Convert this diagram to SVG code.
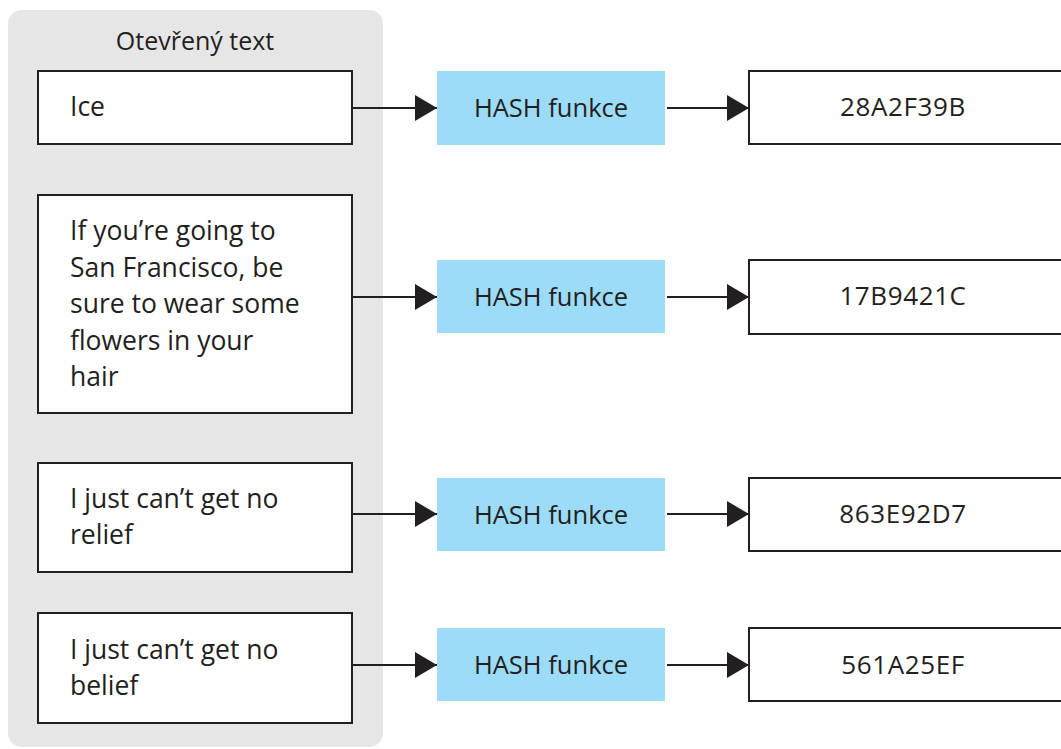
<svg xmlns="http://www.w3.org/2000/svg" width="1061" height="749" viewBox="0 0 1061 749">
  <style>
    .panel { fill: #e6e6e6; }
    .box { fill: #ffffff; stroke: #231f20; stroke-width: 2; }
    .hash { fill: #9ddcf9; }
    .txt { font-family: "Open Sans", "Liberation Sans", sans-serif; font-size: 26.5px; fill: #231f20; }
    .mid { text-anchor: middle; }
    .head { font-size: 25px; }
    .fn { font-size: 25.5px; }
    .code { font-size: 26px; letter-spacing: 0.6px; }
    .link { stroke: #231f20; stroke-width: 2; fill: none; marker-end: url(#arrow); }
  </style>
  <defs>
    <marker id="arrow" markerUnits="userSpaceOnUse" markerWidth="22" markerHeight="26" refX="22" refY="13" orient="auto">
      <path d="M0,0 L22,13 L0,26 Z" fill="#231f20"/>
    </marker>
  </defs>

  <!-- plaintext panel -->
  <g id="panel">
    <rect class="panel" x="8" y="10" width="375" height="737" rx="14"/>
    <text class="txt head mid" x="195" y="50">Otevřený text</text>
  </g>

  <!-- connectors -->
  <g id="connectors">
    <line class="link" x1="353" y1="108" x2="437" y2="108"/>
    <line class="link" x1="667" y1="108" x2="749" y2="108"/>
    <line class="link" x1="353" y1="297" x2="437" y2="297"/>
    <line class="link" x1="667" y1="297" x2="749" y2="297"/>
    <line class="link" x1="353" y1="514" x2="437" y2="514"/>
    <line class="link" x1="667" y1="514" x2="749" y2="514"/>
    <line class="link" x1="353" y1="665" x2="437" y2="665"/>
    <line class="link" x1="667" y1="665" x2="749" y2="665"/>
  </g>

  <!-- row 1 -->
  <g id="input1">
    <rect class="box" x="38" y="71" width="314" height="73"/>
    <text class="txt" x="70" y="116">Ice</text>
  </g>
  <g id="hash1">
    <rect class="hash" x="437" y="71" width="228" height="74"/>
    <text class="txt fn mid" x="551" y="116.5">HASH funkce</text>
  </g>
  <g id="digest1">
    <rect class="box" x="749" y="71" width="320" height="73"/>
    <text class="txt code mid" x="903" y="115.5">28A2F39B</text>
  </g>

  <!-- row 2 -->
  <g id="input2">
    <rect class="box" x="38" y="195" width="314" height="218"/>
    <text class="txt" x="70" y="240">If you’re going to</text>
    <text class="txt" x="70" y="277">San Francisco, be</text>
    <text class="txt" x="70" y="313">sure to wear some</text>
    <text class="txt" x="70" y="350">flowers in your</text>
    <text class="txt" x="70" y="386">hair</text>
  </g>
  <g id="hash2">
    <rect class="hash" x="437" y="260" width="228" height="73"/>
    <text class="txt fn mid" x="551" y="306">HASH funkce</text>
  </g>
  <g id="digest2">
    <rect class="box" x="749" y="260" width="320" height="74"/>
    <text class="txt code mid" x="903" y="305">17B9421C</text>
  </g>

  <!-- row 3 -->
  <g id="input3">
    <rect class="box" x="38" y="463" width="314" height="109"/>
    <text class="txt" x="70" y="508">I just can’t get no</text>
    <text class="txt" x="70" y="544">relief</text>
  </g>
  <g id="hash3">
    <rect class="hash" x="437" y="478" width="228" height="73"/>
    <text class="txt fn mid" x="551" y="523.5">HASH funkce</text>
  </g>
  <g id="digest3">
    <rect class="box" x="749" y="478" width="320" height="73"/>
    <text class="txt code mid" x="903" y="523">863E92D7</text>
  </g>

  <!-- row 4 -->
  <g id="input4">
    <rect class="box" x="38" y="613" width="314" height="110"/>
    <text class="txt" x="70" y="659">I just can’t get no</text>
    <text class="txt" x="70" y="695">belief</text>
  </g>
  <g id="hash4">
    <rect class="hash" x="437" y="628" width="228" height="73"/>
    <text class="txt fn mid" x="551" y="674">HASH funkce</text>
  </g>
  <g id="digest4">
    <rect class="box" x="749" y="628" width="320" height="73"/>
    <text class="txt code mid" x="903" y="673.5">561A25EF</text>
  </g>
</svg>
